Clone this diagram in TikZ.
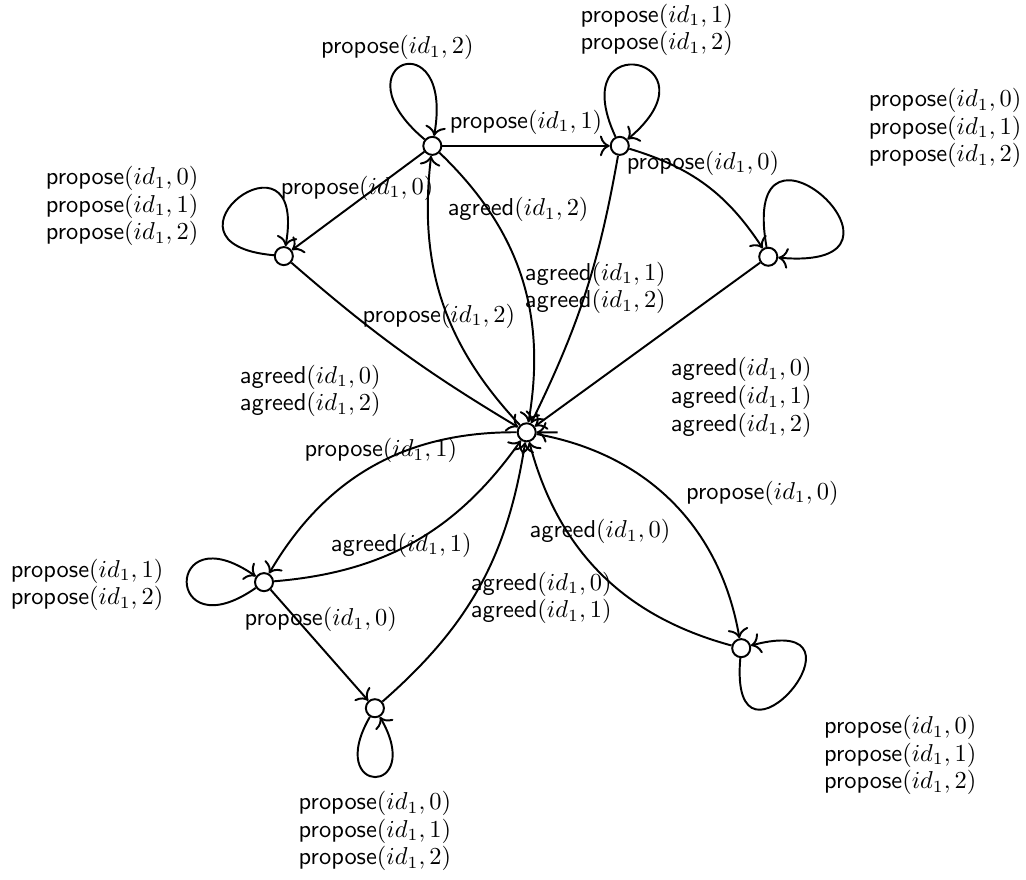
\documentclass[tikz,border=0pt]{standalone}
\usepackage{amsmath,amssymb}
\usepackage{tikz}
\usetikzlibrary{positioning,arrows.meta}
\newcommand{\propose}[1]{\textsf{propose}$(id_1,#1)$}
\newcommand{\agreed}[1]{\textsf{agreed}$(id_1,#1)$}

\begin{document}
\begin{tikzpicture}[scale=0.95,>={Computer Modern Rightarrow[scale=1.2]},thick,
  st/.style={circle,draw,fill=white,minimum size=0.26cm,inner sep=0pt},
  lab/.style={align=center,inner sep=0pt,font=\fontsize{10pt}{11.3pt}\selectfont}]
  \useasboundingbox (0,0) rectangle (15.545,-13.318);
  % states
  \node[st] (c) at (7.98,-6.55) {};
  \node[st] (a) at (6.55,-2.21) {};
  \node[st] (b) at (9.39,-2.21) {};
  \node[st] (l) at (4.30,-3.88) {};
  \node[st] (r) at (11.64,-3.89) {};
  \node[st] (bl1) at (4.00,-8.82) {};
  \node[st] (bl2) at (5.68,-10.73) {};
  \node[st] (br) at (11.23,-9.82) {};
  \coordinate[right=0.3cm of c] (cin);
  % transitions
  \draw[->] (cin) -- (c);
  \draw[->] (a) -- (b);
  \draw[->] (a) -- (l);
  \draw[->] (a) to[bend left=28] (c);
  \draw[->] (c) to[bend left=25] (a);
  \draw[->] (b) to[bend left=8] (c);
  \draw[->] (b) to[bend left=20] (r);
  \draw[->] (l) to[bend right=5] (c);
  \draw[->] (r) -- (c);
  \draw[->] (c) to[bend right=30] (bl1);
  \draw[->] (bl1) to[bend right=25] (c);
  \draw[->] (bl1) -- (bl2);
  \draw[->] (bl2) to[bend right=20] (c);
  \draw[->] (c) to[bend left=35] (br);
  \draw[->] (br) to[bend left=30] (c);
  % self loops
  \draw[->] (a) to[out=140,in=80,min distance=1.8cm] (a);
  \draw[->] (b) to[out=115,in=40,min distance=1.9cm] (b);
  \draw[->] (l) to[out=175,in=80,min distance=2.0cm] (l);
  \draw[->] (r) to[out=100,in=-5,min distance=2.5cm] (r);
  \draw[->] (bl1) to[out=215,in=145,min distance=1.7cm] (bl1);
  \draw[->] (bl2) to[out=-120,in=-60,min distance=1.4cm] (bl2);
  \draw[->] (br) to[out=-95,in=15,min distance=2.1cm] (br);
  % labels
  \node[lab] (lab-ab) at (7.97,-1.85) {\propose{1}};
  \node[lab] (lab-al) at (5.41,-2.85) {\propose{0}};
  \node[lab] (lab-ac) at (7.85,-3.18) {\agreed{2}};
  \node[lab] (lab-ca) at (6.65,-4.79) {\propose{2}};
  \node[lab] (lab-bc) at (9.02,-4.36) {\agreed{1}\\\agreed{2}};
  \node[lab] (lab-br) at (10.65,-2.47) {\propose{0}};
  \node[lab] (lab-lc) at (4.70,-5.92) {\agreed{0}\\\agreed{2}};
  \node[lab] (lab-rc) at (11.23,-6.02) {\agreed{0}\\\agreed{1}\\\agreed{2}};
  \node[lab] (lab-cbl1) at (5.77,-6.83) {\propose{1}};
  \node[lab] (lab-bl1c) at (6.08,-8.26) {\agreed{1}};
  \node[lab] (lab-bl1bl2) at (4.86,-9.39) {\propose{0}};
  \node[lab] (lab-bl2c) at (8.20,-9.06) {\agreed{0}\\\agreed{1}};
  \node[lab] (lab-brc) at (9.09,-8.05) {\agreed{0}};
  \node[lab] (lab-cbr) at (11.55,-7.47) {\propose{0}};
  \node[lab] (lab-aa) at (6.02,-0.72) {\propose{2}};
  \node[lab] (lab-bb) at (9.95,-0.45) {\propose{1}\\\propose{2}};
  \node[lab] (lab-ll) at (1.85,-3.12) {\propose{0}\\\propose{1}\\\propose{2}};
  \node[lab] (lab-rr) at (14.32,-1.94) {\propose{0}\\\propose{1}\\\propose{2}};
  \node[lab] (lab-bl1bl1) at (1.32,-8.86) {\propose{1}\\\propose{2}};
  \node[lab] (lab-bl2bl2) at (5.68,-12.59) {\propose{0}\\\propose{1}\\\propose{2}};
  \node[lab] (lab-brbr) at (13.64,-11.44) {\propose{0}\\\propose{1}\\\propose{2}};
\end{tikzpicture}
\end{document}
